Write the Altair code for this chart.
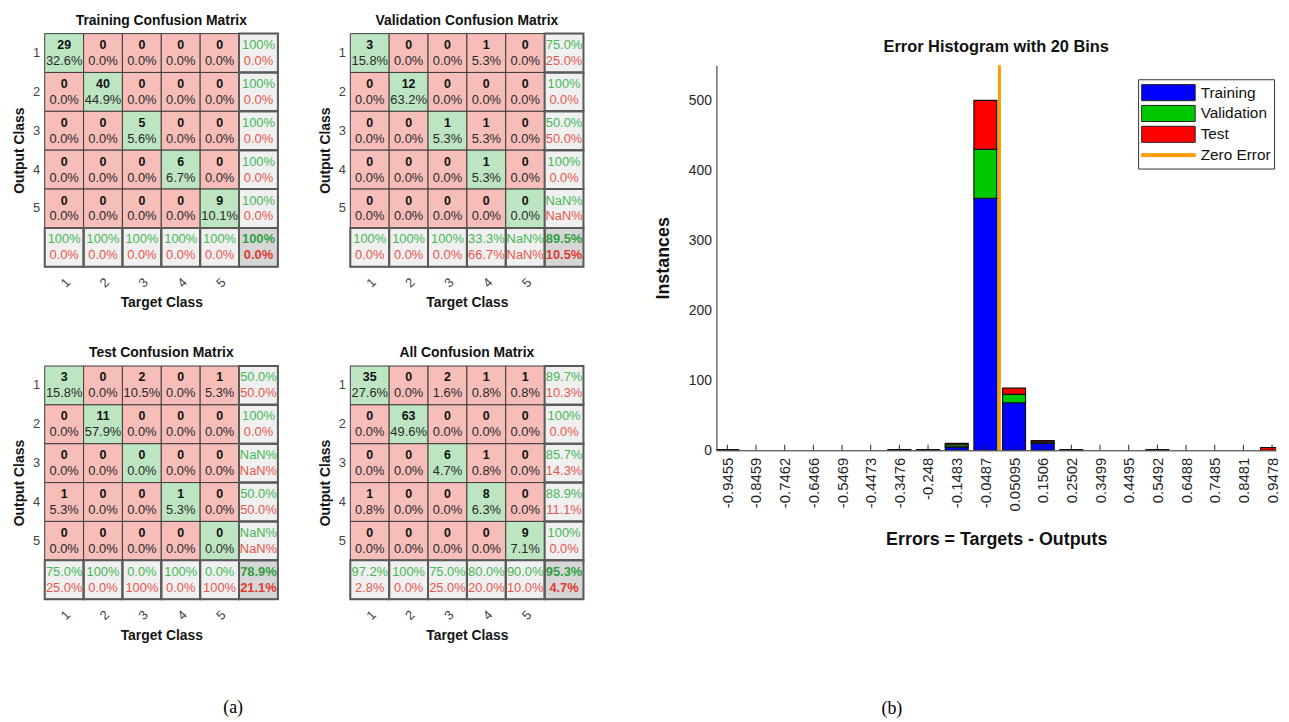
import altair as alt
import pandas as pd

FONT = "Liberation Sans"
SERIF = "Liberation Serif"

# ---------------- data ----------------
class_labels = [1, 2, 3, 4, 5]
matrix_titles = ["Training Confusion Matrix", "Validation Confusion Matrix",
                 "Test Confusion Matrix", "All Confusion Matrix"]
# rows = output class, columns = target class
training_counts = [[29, 0, 0, 0, 0],
                   [0, 40, 0, 0, 0],
                   [0, 0, 5, 0, 0],
                   [0, 0, 0, 6, 0],
                   [0, 0, 0, 0, 9]]
validation_counts = [[3, 0, 0, 1, 0],
                     [0, 12, 0, 0, 0],
                     [0, 0, 1, 1, 0],
                     [0, 0, 0, 1, 0],
                     [0, 0, 0, 0, 0]]
test_counts = [[3, 0, 2, 0, 1],
               [0, 11, 0, 0, 0],
               [0, 0, 0, 0, 0],
               [1, 0, 0, 1, 0],
               [0, 0, 0, 0, 0]]
all_counts = [[35, 0, 2, 1, 1],
              [0, 63, 0, 0, 0],
              [0, 0, 6, 1, 0],
              [1, 0, 0, 8, 0],
              [0, 0, 0, 0, 9]]

hist_series = ["Training", "Validation", "Test"]
legend_names = ["Training", "Validation", "Test", "Zero Error"]
bin_centers = [-0.9455, -0.8459, -0.7462, -0.6466, -0.5469, -0.4473, -0.3476,
               -0.248, -0.1483, -0.0487, 0.05095, 0.1506, 0.2502, 0.3499,
               0.4495, 0.5492, 0.6488, 0.7485, 0.8481, 0.9478]
training_hist = [1, 0, 0, 0, 0, 0, 1, 1, 5, 360, 68, 10, 1, 0, 0, 1, 0, 0, 0, 0]
validation_hist = [0, 0, 0, 0, 0, 0, 0, 0, 3, 70, 12, 2, 0, 0, 0, 0, 0, 0, 0, 0]
test_hist = [0, 0, 0, 0, 0, 0, 0, 0, 2, 70, 9, 2, 0, 0, 0, 0, 0, 0, 0, 4]
y_ticks = [0, 100, 200, 300, 400, 500]

# ---------------- styles ----------------
GREEN_BG, PINK_BG, GRAY_BG, TOTAL_BG = "#bde5c1", "#f6bdb9", "#f0f0f0", "#d6d6d6"
GREEN_TXT, RED_TXT = "#45b854", "#e8574e"
GREEN_BOLD, RED_BOLD = "#2f9e3f", "#dd3a30"
BLUE, GREEN, RED, ORANGE = "#0000ff", "#00c800", "#ff0000", "#ff9a00"
CELL_W = 235
HIST_W, HIST_H = 564, 388
INDEP = dict(x="independent", y="independent", fill="independent", color="independent",
             shape="independent", stroke="independent")


def pct(v):
    if v is None:
        return "NaN%"
    if round(v, 1) == 100:
        return "100%"
    return f"{v:.1f}%"


def matrix_table(counts):
    k = len(class_labels)
    n = sum(map(sum, counts))
    recs = []
    for i in range(k):
        for j in range(k):
            c = counts[i][j]
            recs.append({"r": i + 1, "c": j + 1, "kind": "diag" if i == j else "off",
                         "t1": str(c), "t2": pct(100 * c / n)})
    for i in range(k):
        s = sum(counts[i])
        v = 100 * counts[i][i] / s if s else None
        recs.append({"r": i + 1, "c": k + 1, "kind": "sum", "t1": pct(v),
                     "t2": pct(None if v is None else 100 - v)})
    for j in range(k):
        s = sum(counts[i][j] for i in range(k))
        v = 100 * counts[j][j] / s if s else None
        recs.append({"r": k + 1, "c": j + 1, "kind": "sum", "t1": pct(v),
                     "t2": pct(None if v is None else 100 - v)})
    v = 100 * sum(counts[i][i] for i in range(k)) / n
    recs.append({"r": k + 1, "c": k + 1, "kind": "total", "t1": pct(v), "t2": pct(100 - v)})
    return pd.DataFrame(recs)


def matrix_chart(title, counts):
    df = matrix_table(counts)
    dom = list(range(1, len(class_labels) + 2))
    lab = "datum.value > 5 ? '' : datum.label"
    sc = alt.Scale(domain=dom, paddingInner=0, paddingOuter=0)
    xa = alt.Axis(title="Target Class", labelExpr=lab, labelAngle=315, ticks=False, domain=False,
                  labelFontSize=13, labelColor="#444444", labelPadding=9, titleFontSize=14,
                  titleFontWeight="bold", titleColor="#151515", titlePadding=6, labelFont=FONT,
                  titleFont=FONT)
    ya = alt.Axis(title="Output Class", labelExpr=lab, labelAngle=0, ticks=False, domain=False,
                  labelFontSize=13, labelColor="#444444", labelPadding=5, titleFontSize=14,
                  titleFontWeight="bold", titleColor="#151515", titlePadding=6, labelFont=FONT,
                  titleFont=FONT)
    base = alt.Chart(df).encode(x=alt.X("c:O", scale=sc, axis=xa),
                                y=alt.Y("r:O", scale=sc, axis=ya))
    rect = base.mark_rect(stroke="#3c3c3c", strokeWidth=1).encode(
        fill=alt.Fill("kind:N", scale=alt.Scale(domain=["diag", "off", "sum", "total"],
                                                range=[GREEN_BG, PINK_BG, GRAY_BG, TOTAL_BG]),
                      legend=None))
    summ = "datum.kind == 'sum' || datum.kind == 'total'"
    data_f = "datum.kind == 'diag' || datum.kind == 'off'"
    frame = base.transform_filter(summ).mark_rect(fillOpacity=0, stroke="#5a5a5a", strokeWidth=2)
    t = dict(font=FONT, fontSize=13)
    c1 = base.transform_filter(data_f).mark_text(fontWeight="bold", color="#111111", dy=-8, font=FONT, fontSize=12.5).encode(text="t1:N")
    c2 = base.transform_filter(data_f).mark_text(color="#2a2a2a", dy=8, **t).encode(text="t2:N")
    s1 = base.transform_filter("datum.kind == 'sum'").mark_text(color=GREEN_TXT, dy=-8, **t).encode(text="t1:N")
    s2 = base.transform_filter("datum.kind == 'sum'").mark_text(color=RED_TXT, dy=8, **t).encode(text="t2:N")
    g1 = base.transform_filter("datum.kind == 'total'").mark_text(color=GREEN_BOLD, fontWeight="bold", dy=-8, **t).encode(text="t1:N")
    g2 = base.transform_filter("datum.kind == 'total'").mark_text(color=RED_BOLD, fontWeight="bold", dy=8, **t).encode(text="t2:N")
    return alt.layer(rect, frame, c1, c2, s1, s2, g1, g2).properties(
        width=CELL_W, height=CELL_W,
        title=alt.TitleParams(title, font=FONT, fontSize=14, fontWeight="bold", color="#111111", offset=5))


train_c = matrix_chart(matrix_titles[0], training_counts)
val_c = matrix_chart(matrix_titles[1], validation_counts)
test_c = matrix_chart(matrix_titles[2], test_counts)
all_c = matrix_chart(matrix_titles[3], all_counts)

left_block = alt.vconcat(
    alt.hconcat(train_c, val_c, spacing=38),
    alt.hconcat(test_c, all_c, spacing=38),
    spacing=35,
).properties(title=alt.TitleParams("(a)", orient="bottom", anchor="middle", font=SERIF, fontSize=18,
                                   fontWeight="normal", color="#000000", offset=57, dx=-66))

# ---------------- histogram ----------------
rows = []
for b, center in enumerate(bin_centers):
    for s_i, (name, vals) in enumerate(zip(hist_series, [training_hist, validation_hist, test_hist])):
        rows.append({"center": center, "series": name, "order": s_i, "count": vals[b]})
hist_df = pd.DataFrame(rows)
half = 0.4 * (bin_centers[1] - bin_centers[0])

xs = alt.Scale(domain=[-0.9835, 0.9616], nice=False, zero=False)
ys = alt.Scale(domain=[0, 550], nice=False)
XT = "Errors = Targets - Outputs"
YT = "Instances"
x_axis = alt.Axis(values=bin_centers, labelExpr="'' + datum.value", labelAngle=270, ticks=False,
                  grid=False, domainColor="#262626", labelColor="#262626", labelFontSize=15,
                  labelFont=FONT, labelPadding=7, titleFont=FONT, titleFontSize=18,
                  titleFontWeight="bold", titleColor="#111111", titlePadding=20)
y_axis = alt.Axis(values=y_ticks, ticks=False, grid=False, domainColor="#262626", labelColor="#262626",
                  labelFontSize=14, labelFont=FONT, labelPadding=5, titleFont=FONT, titleFontSize=18,
                  titleFontWeight="bold", titleColor="#111111", titlePadding=16)

bars = alt.Chart(hist_df).transform_window(
    top="sum(count)", groupby=["center"], sort=[alt.SortField("order")], frame=[None, 0]
).transform_filter("datum.count > 0").transform_calculate(
    bottom="datum.top - datum.count",
    left=f"datum.center - {half}",
    right=f"datum.center + {half}",
).mark_rect(stroke="#111111", strokeWidth=1.2, clip=True).encode(
    x=alt.X("left:Q", scale=xs, axis=x_axis, title=XT),
    x2="right:Q",
    y=alt.Y("bottom:Q", scale=ys, axis=y_axis, title=YT),
    y2="top:Q",
    fill=alt.Fill("series:N", scale=alt.Scale(domain=hist_series, range=[BLUE, GREEN, RED]), legend=None),
)

tick_df = pd.DataFrame({"center": bin_centers})
ticks = alt.Chart(tick_df).mark_rule(color="#262626", strokeWidth=1).encode(
    x=alt.X("center:Q", scale=xs, axis=x_axis, title=XT),
    y=alt.Y(datum=0, scale=ys, axis=y_axis, title=YT),
    y2=alt.datum(8),
)

zero_df = pd.DataFrame({"z": [0.0]})
zero_rule = alt.Chart(zero_df).mark_rule(color=ORANGE, strokeWidth=3).encode(
    x=alt.X("z:Q", scale=xs, axis=x_axis, title=XT))

SYM = 2916  # 54 px wide swatches
rect_path = "M-1,-0.3H1V0.3H-1Z"
line_path = "M-1,-0.055H1V0.055H-1Z"
leg = alt.Legend(title=None, orient="none", legendX=425, legendY=14, symbolSize=SYM,
                 symbolStrokeWidth=1, labelFontSize=15.5, labelFont=FONT, labelColor="#111111",
                 labelOffset=5, padding=3, strokeColor="#333333", fillColor="white",
                 rowPadding=0, clipHeight=21, symbolOpacity=1)
legend_df = pd.DataFrame({"series": legend_names, "z": [0.0] * 4, "below": [-100.0] * 4})
legend_pts = alt.Chart(legend_df).mark_point(filled=True, clip=True, size=SYM, opacity=1).encode(
    x=alt.X("z:Q", scale=xs, axis=x_axis, title=XT),
    y=alt.Y("below:Q", scale=ys, axis=y_axis, title=YT),
    color=alt.Color("series:N", scale=alt.Scale(domain=legend_names, range=[BLUE, GREEN, RED, ORANGE]), legend=leg),
    shape=alt.Shape("series:N", scale=alt.Scale(domain=legend_names, range=[rect_path] * 3 + [line_path]), legend=leg),
    stroke=alt.Stroke("series:N", scale=alt.Scale(domain=legend_names, range=["#222222"] * 3 + [ORANGE]), legend=leg),
)

hist = alt.layer(bars, ticks, zero_rule, legend_pts).properties(
    width=HIST_W, height=HIST_H,
    title=alt.TitleParams("Error Histogram with 20 Bins", font=FONT, fontSize=16.5,
                          fontWeight="bold", color="#111111", offset=8),
)

# invisible spacer that lines the histogram block up with the matrix plot areas
spacer = alt.Chart(pd.DataFrame({"s": [0]})).mark_point(opacity=0).encode(
    x=alt.value(0), y=alt.value(0)).properties(width=HIST_W, height=4)

right_block = alt.vconcat(spacer, hist, spacing=0).resolve_scale(**INDEP).properties(
    title=alt.TitleParams("(b)", orient="bottom", anchor="middle", font=SERIF, fontSize=18,
                          fontWeight="normal", color="#000000", offset=152, dx=-76))

chart = alt.hconcat(left_block, right_block, spacing=69).resolve_scale(**INDEP).properties(
    padding={"left": 4, "top": 2, "right": 0, "bottom": 0}
).configure(font=FONT).configure_view(stroke="transparent", fill="transparent")

chart.save("out.html", embed_options={"renderer": "svg", "actions": False})
